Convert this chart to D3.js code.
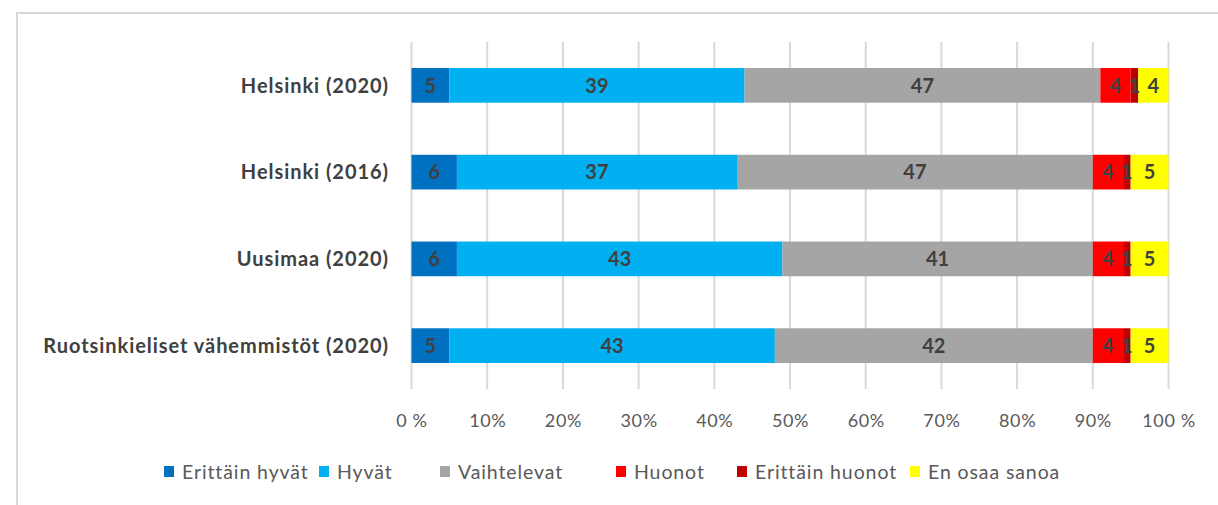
<!DOCTYPE html>
<html>
<head>
<meta charset="utf-8">
<script src="https://cdn.jsdelivr.net/npm/d3@7/dist/d3.min.js"></script>
<style>
  html, body { margin: 0; padding: 0; background: #fff; }
  svg { display: block; font-family: Lato, "Open Sans", sans-serif; }
</style>
</head>
<body>
<svg id="chart" width="1218" height="505"></svg>
<script>
// Respondent groups (top to bottom)
const categories = [
  "Helsinki (2020)",
  "Helsinki (2016)",
  "Uusimaa (2020)",
  "Ruotsinkieliset vähemmistöt (2020)"
];

// Answer options (stack order, left to right)
const seriesNames = ["Erittäin hyvät", "Hyvät", "Vaihtelevat", "Huonot", "Erittäin huonot", "En osaa sanoa"];
const seriesColors = ["#0070C0", "#00B0F0", "#A5A5A5", "#FF0000", "#C00000", "#FFFF00"];

// Share of answers, % (one array per answer option, in category order)
const erittainHyvat  = [5, 6, 6, 5];
const hyvat          = [39, 37, 43, 43];
const vaihtelevat    = [47, 47, 41, 42];
const huonot         = [4, 4, 4, 4];
const erittainHuonot = [1, 1, 1, 1];
const enOsaaSanoa    = [4, 5, 5, 5];

// Axis ticks
const tickValues = [0, 10, 20, 30, 40, 50, 60, 70, 80, 90, 100];
const tickLabels = ["0 %", "10%", "20%", "30%", "40%", "50%", "60%", "70%", "80%", "90%", "100 %"];

const seriesValues = [erittainHyvat, hyvat, vaihtelevat, huonot, erittainHuonot, enOsaaSanoa];

const rows = categories.map((c, i) => {
  const r = { category: c };
  seriesNames.forEach((s, j) => { r[s] = seriesValues[j][i]; });
  return r;
});

const svg = d3.select("#chart");

// chart frame
svg.append("path")
  .attr("d", "M17,505 L17,13 L1218,13")
  .attr("fill", "none")
  .attr("stroke", "#D9D9D9")
  .attr("stroke-width", 2);

const plot = { left: 411.5, right: 1168.5, top: 42, bottom: 389 };

const x = d3.scaleLinear().domain([0, 100]).range([plot.left, plot.right]);
const y = d3.scaleBand().domain(categories).range([plot.top, plot.bottom]).paddingInner(0.6).paddingOuter(0.3);

// vertical gridlines
svg.append("g")
  .selectAll("line")
  .data(tickValues)
  .join("line")
  .attr("x1", d => x(d)).attr("x2", d => x(d))
  .attr("y1", plot.top).attr("y2", plot.bottom)
  .attr("stroke", "#D9D9D9")
  .attr("stroke-width", 2);

// stacked bars
const stack = d3.stack().keys(seriesNames)(rows);

const layers = svg.append("g")
  .selectAll("g")
  .data(stack)
  .join("g")
  .attr("fill", (d, i) => seriesColors[i]);

layers.selectAll("rect")
  .data(d => d)
  .join("rect")
  .attr("x", d => x(d[0]))
  .attr("width", d => x(d[1]) - x(d[0]))
  .attr("y", d => y(d.data.category))
  .attr("height", y.bandwidth());

// value labels
const labels = svg.append("g")
  .attr("font-size", 20)
  .attr("font-weight", "bold")
  .attr("fill", "#404040")
  .attr("text-anchor", "middle");

stack.forEach(layer => {
  labels.selectAll(null)
    .data(layer)
    .join("text")
    .attr("x", d => (x(d[0]) + x(d[1])) / 2)
    .attr("y", d => y(d.data.category) + y.bandwidth() / 2)
    .attr("dy", "0.36em")
    .text(d => d[1] - d[0]);
});

// category axis labels
svg.append("g")
  .selectAll("text")
  .data(categories)
  .join("text")
  .attr("x", 389)
  .attr("y", d => y(d) + y.bandwidth() / 2)
  .attr("dy", "0.36em")
  .attr("text-anchor", "end")
  .attr("font-size", 20)
  .attr("font-weight", "bold")
  .attr("fill", "#404040")
  .attr("letter-spacing", "0.95px")
  .text(d => d);

// percentage axis
const xAxis = d3.axisBottom(x)
  .tickValues(tickValues)
  .tickFormat((d, i) => tickLabels[i])
  .tickSize(0)
  .tickPadding(0);

const gx = svg.append("g")
  .attr("transform", `translate(0,${plot.bottom + 25})`)
  .call(xAxis);
gx.select(".domain").remove();
gx.selectAll("text")
  .attr("font-family", "Lato, 'Open Sans', sans-serif")
  .attr("font-size", 18)
  .attr("fill", "#595959")
  .attr("letter-spacing", "0.6px");

// legend
const legendX = [164, 319, 440, 616, 737, 910];
const legend = svg.append("g")
  .selectAll("g")
  .data(seriesNames)
  .join("g")
  .attr("transform", (d, i) => `translate(${legendX[i]},472)`);

legend.append("rect")
  .attr("x", 0).attr("y", -6)
  .attr("width", 10).attr("height", 11)
  .attr("fill", (d, i) => seriesColors[i]);

legend.append("text")
  .attr("x", 18)
  .attr("y", 0)
  .attr("dy", "0.35em")
  .attr("font-size", 19.5)
  .attr("fill", "#595959")
  .attr("letter-spacing", "0.9px")
  .text(d => d);
</script>
</body>
</html>
